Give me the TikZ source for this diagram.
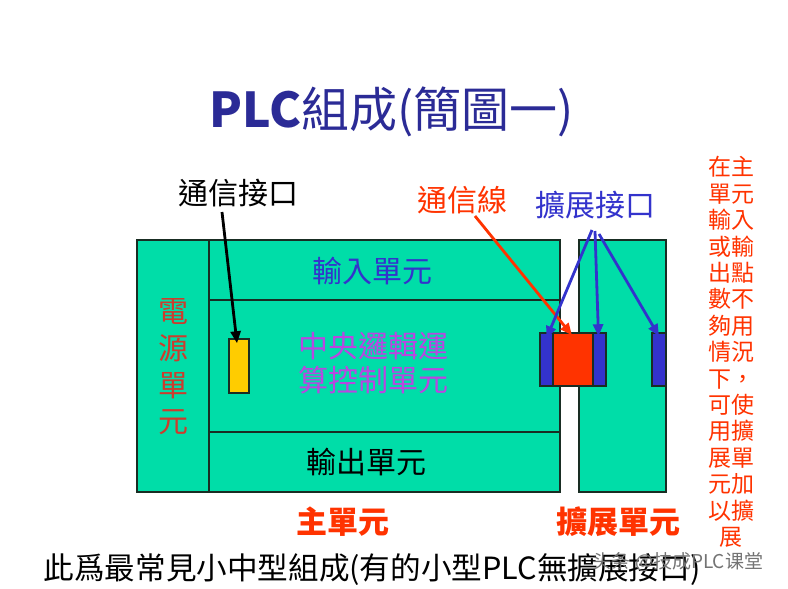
\documentclass[tikz,border=0pt]{standalone}
\usepackage{fontspec}
\setmainfont{Noto Sans CJK TC}
\newfontfamily\scfont{Noto Sans CJK SC}
\usetikzlibrary{arrows.meta}
\definecolor{plcgreen}{RGB}{0,221,168}
\definecolor{plcblue}{RGB}{51,51,204}
\definecolor{plcred}{RGB}{255,51,0}
\definecolor{plcyellow}{RGB}{255,204,0}
\definecolor{titleblue}{RGB}{43,43,150}
\definecolor{cpupurple}{RGB}{185,70,225}
\definecolor{powerred}{RGB}{205,60,45}
\definecolor{edgedark}{RGB}{25,45,35}
\tikzset{
  box/.style={draw=edgedark, line width=1.5pt, inner sep=0pt},
  greenbox/.style={box, fill=plcgreen},
  lbl/.style={inner sep=0pt, font=\fontsize{30}{34}\selectfont},
  arr/.style={line width=2.8pt, -{Triangle[length=12pt,width=10pt]}},
}
\begin{document}
\begin{tikzpicture}[x=1pt,y=-1pt]
\useasboundingbox[fill=white] (0,0) rectangle (788,589);
% title
\node[inner sep=0pt, text=titleblue, font=\fontsize{48}{52}\selectfont] (title) at (392,112) {{\bfseries PLC}組成(簡圖一)};
% main unit
\node[greenbox, minimum width=72pt, minimum height=252pt] (power) at (173,366) {};
\node[greenbox, minimum width=351pt, minimum height=60pt] (input) at (384.5,270) {};
\node[greenbox, minimum width=351pt, minimum height=132pt] (cpu) at (384.5,366) {};
\node[greenbox, minimum width=351pt, minimum height=60pt] (output) at (384.5,462) {};
% expansion unit
\node[greenbox, minimum width=87pt, minimum height=252pt] (exp) at (622.5,366) {};
% parts
\node[box, fill=plcyellow, minimum width=20pt, minimum height=54pt] (port) at (239,366) {};
\node[box, fill=plcblue, minimum width=13pt, minimum height=53pt] (lblue) at (546.5,359.5) {};
\node[box, fill=plcred, minimum width=40pt, minimum height=53pt] (cable) at (573,359.5) {};
\node[box, fill=plcblue, minimum width=13pt, minimum height=53pt] (rblue) at (599.5,359.5) {};
\node[box, fill=plcblue, minimum width=14pt, minimum height=53pt] (eblue) at (659,359.5) {};
% texts in boxes
\node[lbl, text=plcblue] (tin) at (372,271) {輸入單元};
\node[lbl, text=cpupurple, align=center] (tcpu) at (373,363) {中央邏輯運\\算控制單元};
\node[lbl, text=black] (tout) at (366,462) {輸出單元};
\node[lbl, text=powerred, align=center, font=\fontsize{30}{36.7}\selectfont] (tpow) at (173,367) {電\\源\\單\\元};
% labels
\node[lbl, text=black] (tcom) at (238,193) {通信接口};
\node[lbl, text=plcred] (tcab) at (462,200) {通信線};
\node[lbl, text=plcblue] (texp) at (595,205) {擴展接口};
\node[lbl, text=plcred, font=\fontsize{31}{34}\selectfont\bfseries] (tmain) at (343,522) {主單元};
\node[lbl, text=plcred, font=\fontsize{31}{34}\selectfont\bfseries] (texu) at (618,522) {擴展單元};
\node[inner sep=0pt, text=plcred, align=center, font=\fontsize{23}{26.4}\selectfont] (tnote) at (731,352) {在主\\單元\\輸入\\或輸\\出點\\數不\\夠用\\情況\\下，\\可使\\用擴\\展單\\元加\\以擴\\展};
\node[inner sep=0pt, text=black, font=\fontsize{30.6}{34}\selectfont] (tbottom) at (372,570) {此爲最常見小中型組成(有的小型PLC無擴展接口)};
% watermark
\node[inner sep=0pt, text=black!55, font=\scfont\fontsize{19}{22}\selectfont] (wm) at (678,562) {头条 @技成PLC课堂};
% arrows
\coordinate (s1) at (222,212);
\coordinate (s2) at (475,216);
\coordinate (s3) at (592,230);
\coordinate (s4) at (595,231);
\coordinate (s5) at (599,234);
\draw[arr, black] (s1) -- ([shift={(-2pt,-5pt)}]port.north);
\draw[arr, plcred] (s2) -- ([shift={(-1pt,-3pt)}]cable.north);
\draw[arr, plcblue] (s3) -- ([shift={(0pt,-6pt)}]lblue.north);
\draw[arr, plcblue] (s4) -- ([shift={(-1pt,-4pt)}]rblue.north);
\draw[arr, plcblue] (s5) -- ([shift={(0pt,-4pt)}]eblue.north);
\end{tikzpicture}
\end{document}
